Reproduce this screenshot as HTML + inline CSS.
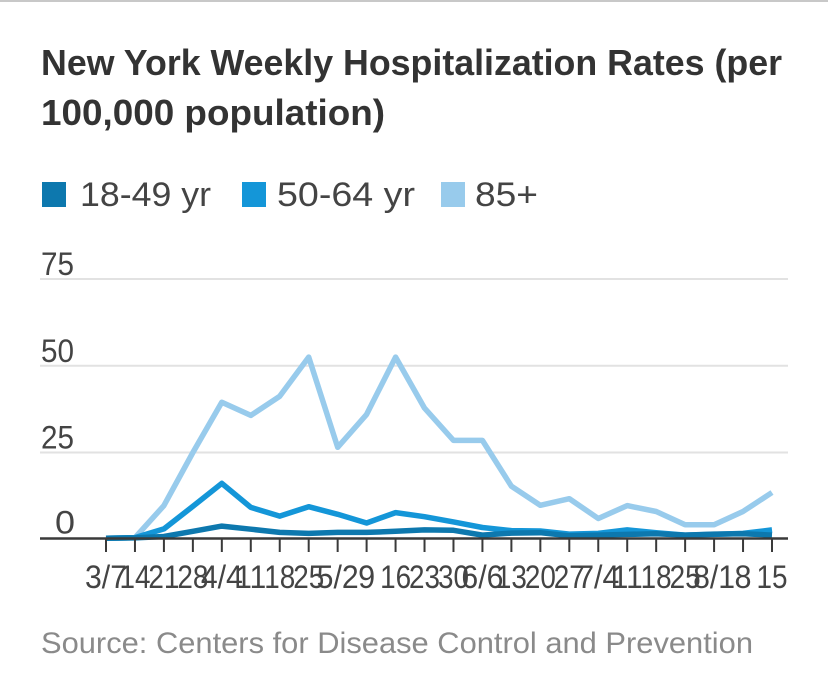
<!DOCTYPE html>
<html>
<head>
<meta charset="utf-8">
<style>
html,body{margin:0;padding:0;background:#fff;}
svg{display:block;font-family:"Liberation Sans",sans-serif;}
</style>
</head>
<body>
<svg id="chart" width="828" height="684" viewBox="0 0 828 684" xmlns="http://www.w3.org/2000/svg">
  <rect x="0" y="0" width="828" height="2" fill="#c8c8c8"/>
  <text x="41" y="75" font-size="36" font-weight="700" fill="#333" textLength="741" lengthAdjust="spacingAndGlyphs">New York Weekly Hospitalization Rates (per</text>
  <text x="41" y="125" font-size="36" font-weight="700" fill="#333" textLength="344" lengthAdjust="spacingAndGlyphs">100,000 population)</text>

  <g>
    <rect x="42" y="182" width="24" height="25" fill="#0d78ae"/>
    <text x="80" y="206" font-size="34" fill="#444" textLength="131" lengthAdjust="spacingAndGlyphs">18-49 yr</text>
    <rect x="242" y="182" width="24" height="25" fill="#1496d8"/>
    <text x="277" y="206" font-size="34" fill="#444" textLength="138" lengthAdjust="spacingAndGlyphs">50-64 yr</text>
    <rect x="441" y="182" width="24" height="25" fill="#98cbec"/>
    <text x="475" y="206" font-size="34" fill="#444" textLength="63" lengthAdjust="spacingAndGlyphs">85+</text>
  </g>

  <g id="grid"></g>
  <g id="series"></g>
  <g id="xaxis"></g>

  <text x="41" y="653" font-size="30" fill="#8a8a8a" textLength="712" lengthAdjust="spacingAndGlyphs">Source: Centers for Disease Control and Prevention</text>
</svg>
<script>
const categories = ["3/7","14","21","28","4/4","11","18","25","5/2","9","16","23","30","6/6","13","20","27","7/4","11","18","25","8/1","8","15"];
const yTicks = [0,25,50,75];
const values1849 = [0.3,0.4,0.8,2.3,3.8,2.9,2,1.7,2,2,2.3,2.7,2.6,1.2,1.8,1.9,1,1.2,1.4,1.6,1.2,1.5,1.6,1.2];
const values5064 = [0.3,0.5,3,9.5,16.1,9.2,6.7,9.4,7.2,4.7,7.7,6.5,5,3.4,2.5,2.4,1.5,1.7,2.7,1.9,1.2,1.4,1.7,2.7];
const values85 = [0.3,0.5,9.7,25,39.5,35.7,41.2,52.5,26.5,36,52.5,37.8,28.5,28.5,15.3,9.8,11.7,6,9.7,8,4.2,4.2,8,13.5];

const NS = "http://www.w3.org/2000/svg";
function xPos(i){ return 106 + i * (772 - 106) / (categories.length - 1); }
function yPos(v){ return 539.3 - v * 3.47; }
function make(tag, attrs, parent){
  const el = document.createElementNS(NS, tag);
  for (const k in attrs) el.setAttribute(k, attrs[k]);
  parent.appendChild(el);
  return el;
}

const grid = document.getElementById("grid");
yTicks.forEach(function(t){
  if (t !== 0) {
    const line = make("line", {x1:40, x2:788, y1:yPos(t), y2:yPos(t), stroke:"#e2e2e2", "stroke-width":2}, grid);
    
    
  }
  const label = make("text", {x:41, y:yPos(t) - 4 - (t === 0 ? 2 : 0), "font-size":32, fill:"#444"}, grid);
  
  
  label.setAttribute('textLength', t === 0 ? 20 : 33);
  label.setAttribute('lengthAdjust', 'spacingAndGlyphs');
  if (t === 0) label.setAttribute('x', 55);
  label.textContent = t;
});

const series = document.getElementById("series");
function drawLine(values, color, width){
  const pts = values.map(function(v, i){ return xPos(i).toFixed(1) + "," + yPos(v).toFixed(1); }).join(" ");
  return make("polyline", {points:pts, fill:"none", stroke:color, "stroke-width":width, "stroke-linejoin":"round"}, series);
}
const line85 = drawLine(values85, "#98cbec", 5.5);


const line5064 = drawLine(values5064, "#1496d8", 5.5);


const line1849 = drawLine(values1849, "#0d78ae", 5.5);



const xaxis = document.getElementById("xaxis");
const baseline = make("line", {x1:40, x2:788, y1:538.5, y2:538.5, stroke:"#3a3a3a", "stroke-width":2.5}, xaxis);


categories.forEach(function(c, i){
  const tick = make("line", {x1:xPos(i), x2:xPos(i), y1:538, y2:552, stroke:"#3a3a3a", "stroke-width":2}, xaxis);
  
  
  const label = make("text", {x:xPos(i), y:588, "font-size":32, fill:"#444", "text-anchor":"middle"}, xaxis);
  
  
  label.setAttribute('textLength', c.length === 3 ? 42 : (c.length === 2 ? 31 : 17));
  label.setAttribute('lengthAdjust', 'spacingAndGlyphs');
  label.textContent = c;
});
</script>
</body>
</html>
